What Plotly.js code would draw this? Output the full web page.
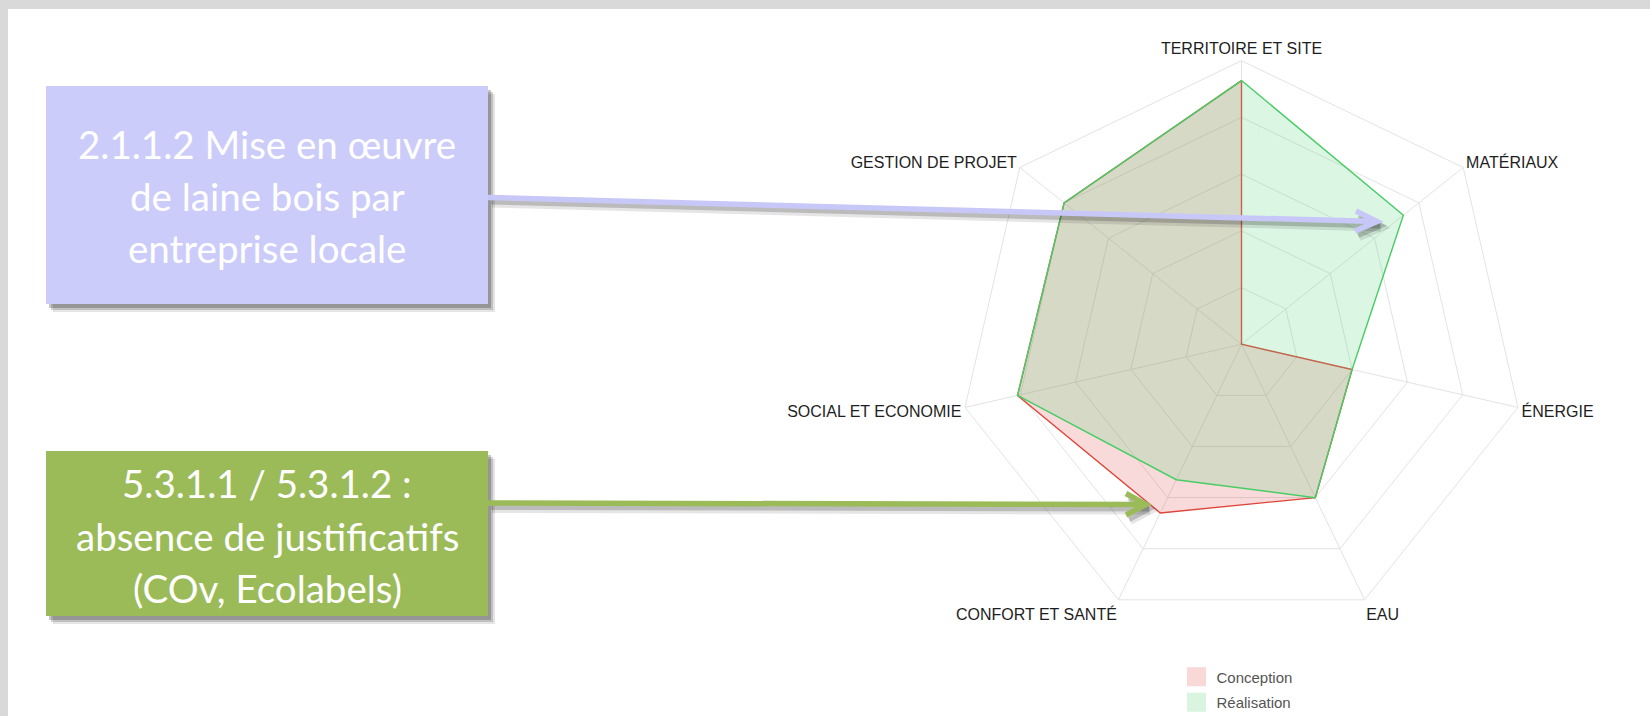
<!DOCTYPE html>
<html>
<head>
<meta charset="utf-8">
<script src="https://cdn.plot.ly/plotly-3.0.1.min.js"></script>
<style>
html,body{margin:0;padding:0;background:#d9d9d9;}
#chart{width:1650px;height:716px;}
</style>
</head>
<body>
<div id="chart"></div>
<script>
// ---- data ----
var categories = ['TERRITOIRE ET SITE', 'MATÉRIAUX', 'ÉNERGIE', 'EAU', 'CONFORT ET SANTÉ', 'SOCIAL ET ECONOMIE', 'GESTION DE PROJET'];
var conception = [93, 0, 40, 60, 66, 81, 80];
var realisation = [93, 73, 40, 60, 53, 81, 80];
var seriesNames = ['Conception', 'Réalisation'];
var callout1Lines = ['2.1.1.2 Mise en œuvre', 'de laine bois par', 'entreprise locale'];
var callout2Lines = ['5.3.1.1 / 5.3.1.2 :', 'absence de justificatifs', '(COv, Ecolabels)'];

// ---- helpers (pixel -> paper) ----
var W = 1650, H = 716;
function px(x) { return x / W; }
function py(y) { return 1 - y / H; }
function closeLoop(a) { return a.concat([a[0]]); }
function pathPx(points) {
  return points.map(function (p, i) {
    return (i === 0 ? 'M ' : 'L ') + px(p[0]).toFixed(5) + ',' + py(p[1]).toFixed(5);
  }).join(' ');
}

var labelFont = 'Liberation Sans, Arial, sans-serif';
var boxFont = 'Lato, Open Sans, sans-serif';

var traces = [
  {
    type: 'scatterpolar',
    r: closeLoop(conception),
    theta: closeLoop(categories),
    name: seriesNames[0],
    mode: 'lines',
    fill: 'toself',
    fillcolor: 'rgba(220,50,50,0.18)',
    line: {color: 'rgb(222,70,58)', width: 1.4},
    showlegend: false,
    hoverinfo: 'skip'
  },
  {
    type: 'scatterpolar',
    r: closeLoop(realisation),
    theta: closeLoop(categories),
    name: seriesNames[1],
    mode: 'lines',
    fill: 'toself',
    fillcolor: 'rgba(96,214,132,0.22)',
    line: {color: 'rgb(72,205,102)', width: 1.4},
    showlegend: false,
    hoverinfo: 'skip'
  },
  // legend swatches (no data of their own)
  {
    type: 'scatter', x: [null], y: [null], mode: 'markers', name: seriesNames[0], legendgroup: 'c',
    marker: {symbol: 'square', size: 16, color: '#f9d8d8', line: {width: 3, color: '#f9d8d8'}}, hoverinfo: 'skip'
  },
  {
    type: 'scatter', x: [null], y: [null], mode: 'markers', name: seriesNames[1], legendgroup: 'r',
    marker: {symbol: 'square', size: 16, color: '#d9f5e0', line: {width: 3, color: '#d9f5e0'}}, hoverinfo: 'skip'
  }
];

// geometry of the callout boxes (pixels)
var box1 = {x0: 46, x1: 488, y0: 86, y1: 304, color: '#ccccfb'};
var box2 = {x0: 46, x1: 488, y0: 451, y1: 616, color: '#9bbb59'};

var shapes = [];
// slide background
shapes.push({type: 'rect', xref: 'paper', yref: 'paper', layer: 'below',
  x0: px(8), x1: px(1660), y0: py(730), y1: py(9), fillcolor: '#ffffff', line: {width: 0}});

function addBox(b) {
  var offs = [[7, 8, 0.10], [5, 6, 0.16], [3, 4, 0.22]];
  offs.forEach(function (o) {
    shapes.push({type: 'rect', xref: 'paper', yref: 'paper', layer: 'above',
      x0: px(b.x0 + o[0]), x1: px(b.x1 + o[0]), y0: py(b.y1 + o[1]), y1: py(b.y0 + o[1]),
      fillcolor: 'rgba(0,0,0,' + o[2] + ')', line: {width: 0}});
  });
  shapes.push({type: 'rect', xref: 'paper', yref: 'paper', layer: 'above',
    x0: px(b.x0), x1: px(b.x1), y0: py(b.y1), y1: py(b.y0), fillcolor: b.color, line: {width: 0}});
}

function addArrow(start, tip, armA, armB, color) {
  var sh = [[4, 6, 0.10, 8], [3, 4, 0.18, 6]];
  sh.forEach(function (s) {
    function o(p) { return [p[0] + s[0], p[1] + s[1]]; }
    shapes.push({type: 'path', xref: 'paper', yref: 'paper', layer: 'above',
      path: pathPx([o(start), o(tip)]), line: {color: 'rgba(0,0,0,' + s[2] + ')', width: s[3]}});
    shapes.push({type: 'path', xref: 'paper', yref: 'paper', layer: 'above',
      path: pathPx([o(armA), o(tip), o(armB)]), line: {color: 'rgba(0,0,0,' + s[2] + ')', width: s[3]}});
  });
  shapes.push({type: 'path', xref: 'paper', yref: 'paper', layer: 'above',
    path: pathPx([start, tip]), line: {color: color, width: 5.5}});
  shapes.push({type: 'path', xref: 'paper', yref: 'paper', layer: 'above',
    path: pathPx([armA, tip, armB]), line: {color: color, width: 5.5}});
}

addBox(box1);
addBox(box2);
addArrow([488, 197.5], [1377, 221.5], [1356, 211], [1355, 231], '#c8c8f8');
addArrow([488, 503], [1146, 504.5], [1126, 493.5], [1126, 515], '#9bbb59');

var annotations = [];
var midsBox1 = [144, 196, 248];
var midsBox2 = [483, 535.5, 587.5];
callout1Lines.forEach(function (t, i) {
  annotations.push({xref: 'paper', yref: 'paper', x: px(267), y: py(midsBox1[i]),
    xanchor: 'center', yanchor: 'middle', showarrow: false, text: t,
    font: {family: boxFont, size: 38.5, color: '#ffffff'}});
});
callout2Lines.forEach(function (t, i) {
  annotations.push({xref: 'paper', yref: 'paper', x: px(267), y: py(midsBox2[i]),
    xanchor: 'center', yanchor: 'middle', showarrow: false, text: t,
    font: {family: boxFont, size: 38.5, color: '#ffffff'}});
});

var cx = 1241.5, cy = 344.3, R = 283.6;
var layout = {
  width: W, height: H,
  margin: {l: 0, r: 0, t: 0, b: 0, autoexpand: false},
  paper_bgcolor: '#d9d9d9',
  plot_bgcolor: 'rgba(0,0,0,0)',
  xaxis: {visible: false, showgrid: false, zeroline: false, fixedrange: true},
  yaxis: {visible: false, showgrid: false, zeroline: false, fixedrange: true},
  showlegend: true,
  legend: {
    x: px(1176.5), xanchor: 'left', y: py(660.5), yanchor: 'top',
    tracegroupgap: 3,
    font: {family: labelFont, size: 15, color: '#555555'},
    bgcolor: 'rgba(0,0,0,0)', itemclick: false, itemdoubleclick: false
  },
  polar: {
    domain: {x: [px(cx - R), px(cx + R)], y: [py(cy + R), py(cy - R)]},
    bgcolor: 'rgba(0,0,0,0)',
    gridshape: 'linear',
    radialaxis: {
      range: [0, 100], dtick: 20, showticklabels: false, ticks: '',
      showline: false, gridcolor: '#e3e3e3', gridwidth: 1
    },
    angularaxis: {
      direction: 'clockwise', rotation: 90, ticks: '',
      gridcolor: '#e3e3e3', linecolor: '#e3e3e3', showline: true, linewidth: 1,
      tickfont: {family: labelFont, size: 16, color: '#1e1e1e'}
    }
  },
  shapes: shapes,
  annotations: annotations
};

Plotly.newPlot('chart', traces, layout, {displayModeBar: false, staticPlot: true});
</script>
</body>
</html>
